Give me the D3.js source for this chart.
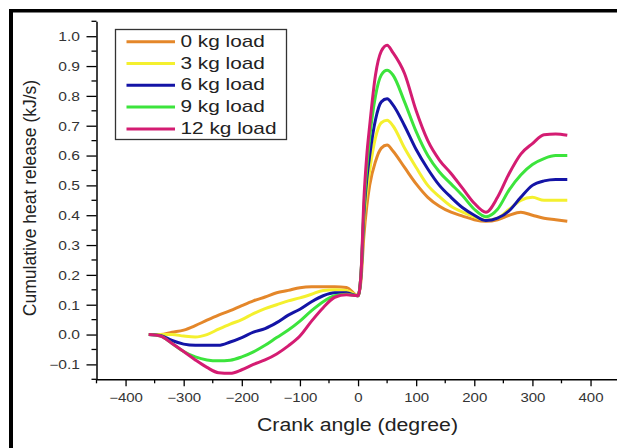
<!DOCTYPE html>
<html>
<head>
<meta charset="utf-8">
<script src="https://cdn.jsdelivr.net/npm/d3@7"></script>
<style>
  html, body { margin: 0; padding: 0; background: #fff; }
  svg { display: block; font-family: "Liberation Sans", Arial, sans-serif; }
</style>
</head>
<body>
<svg id="chart" width="617" height="448"></svg>
<script>
// ---- data ----
const crankAngle = [-360,-340,-320,-300,-280,-260,-240,-220,-200,-180,-160,-140,-120,-100,-80,-60,-40,-20,0,5,10,15,20,30,40,50,60,80,100,120,140,160,180,200,220,240,260,280,300,320,340,360];
const seriesNames = ["0 kg load","3 kg load","6 kg load","9 kg load","12 kg load"];
const load0 = [0,0,0.008,0.015,0.03,0.048,0.065,0.08,0.097,0.113,0.126,0.14,0.148,0.157,0.16,0.16,0.16,0.158,0.13,0.18,0.33,0.43,0.5,0.58,0.625,0.635,0.615,0.56,0.505,0.46,0.43,0.41,0.397,0.385,0.38,0.385,0.4,0.41,0.4,0.39,0.385,0.38];
const load3 = [0,0,0,-0.005,-0.008,0,0.018,0.035,0.05,0.07,0.087,0.1,0.113,0.123,0.135,0.148,0.15,0.148,0.13,0.2,0.38,0.48,0.55,0.66,0.71,0.718,0.7,0.625,0.56,0.5,0.462,0.43,0.41,0.395,0.383,0.39,0.42,0.45,0.46,0.45,0.45,0.45];
const load6 = [0,-0.003,-0.02,-0.032,-0.036,-0.036,-0.036,-0.025,-0.01,0.008,0.02,0.04,0.065,0.085,0.11,0.13,0.14,0.14,0.13,0.2,0.4,0.52,0.6,0.72,0.78,0.79,0.77,0.7,0.62,0.555,0.5,0.46,0.425,0.4,0.382,0.39,0.415,0.46,0.5,0.515,0.52,0.52];
const load9 = [0,-0.005,-0.03,-0.057,-0.075,-0.085,-0.088,-0.086,-0.075,-0.058,-0.036,-0.01,0.015,0.045,0.08,0.11,0.13,0.135,0.13,0.2,0.42,0.56,0.66,0.8,0.87,0.886,0.87,0.78,0.68,0.6,0.545,0.505,0.465,0.42,0.395,0.42,0.485,0.535,0.57,0.59,0.6,0.6];
const load12 = [0,-0.005,-0.03,-0.057,-0.085,-0.11,-0.128,-0.13,-0.118,-0.1,-0.085,-0.065,-0.038,-0.005,0.045,0.09,0.125,0.133,0.13,0.2,0.45,0.6,0.7,0.87,0.95,0.97,0.945,0.875,0.75,0.65,0.585,0.54,0.49,0.44,0.41,0.46,0.54,0.605,0.64,0.67,0.672,0.668];
const seriesColors = ["#E4872A","#F4F02E","#1414A6","#3CE43C","#D41C72"];
const xTickValues = [-400,-300,-200,-100,0,100,200,300,400];
const yTickValues = [-0.1,0,0.1,0.2,0.3,0.4,0.5,0.6,0.7,0.8,0.9,1.0];
const xTitle = "Crank angle (degree)";
const yTitle = "Cumulative heat release (kJ/s)";

const allSeries = [load0, load3, load6, load9, load12];

// ---- layout ----
const svg = d3.select("#chart");
const x = d3.scaleLinear().domain([-450, 450]).range([96.5, 619.6]);
const y = d3.scaleLinear().domain([-0.15, 1.05]).range([379.3, 21.3]);

// frame bars
svg.append("rect").attr("x", 9).attr("y", 9).attr("width", 608).attr("height", 3.5).attr("fill", "#000");
svg.append("rect").attr("x", 9).attr("y", 9).attr("width", 4).attr("height", 439).attr("fill", "#000");

// axes: minor ticks
const xMinor = d3.range(-450, 451, 50).filter(v => !xTickValues.includes(v));
const yMinor = d3.range(-0.15, 1.06, 0.05).map(v => +v.toFixed(2)).filter(v => !yTickValues.some(t => Math.abs(t - v) < 1e-6));

const gx = svg.append("g").attr("transform", `translate(0,${y(-0.15)})`);
gx.call(d3.axisBottom(x).tickValues(xTickValues).tickSize(7).tickSizeOuter(0).tickFormat(d3.format("d")));
gx.append("g").selectAll("line").data(xMinor).join("line")
  .attr("x1", d => x(d)).attr("x2", d => x(d)).attr("y1", 0).attr("y2", 4).attr("stroke", "#000").attr("stroke-width", 1.3);

const gy = svg.append("g").attr("transform", `translate(${x(-450)},0)`);
gy.call(d3.axisLeft(y).tickValues(yTickValues).tickSize(10).tickSizeOuter(0).tickFormat(d3.format(".1f")));
gy.append("g").selectAll("line").data(yMinor).join("line")
  .attr("y1", d => y(d)).attr("y2", d => y(d)).attr("x1", 0).attr("x2", -5).attr("stroke", "#000").attr("stroke-width", 1.3);

[gx, gy].forEach(g => {
  g.select(".domain").attr("stroke", "#000").attr("stroke-width", 1.5);
  g.selectAll(".tick line").attr("stroke", "#000").attr("stroke-width", 1.3);
  g.selectAll(".tick text").attr("fill", "#333").attr("font-size", 12)
    .attr("font-family", '"Liberation Sans", Arial, sans-serif');
});
gx.selectAll(".tick text").attr("y", 0).attr("dy", 0)
  .attr("transform", "translate(0,22.5) scale(1.25,1)");
gy.selectAll(".tick text").attr("x", 0).attr("dy", 0)
  .attr("transform", "translate(-16.5,4.3) scale(1.3,1)");

// lines
const line = d3.line().x((d, i) => x(crankAngle[i])).y(d => y(d)).curve(d3.curveMonotoneX);
svg.append("g").selectAll("path").data(allSeries).join("path")
  .attr("d", d => line(d))
  .attr("fill", "none")
  .attr("stroke", (d, i) => seriesColors[i])
  .attr("stroke-width", 3)
  .attr("stroke-linejoin", "round");

// axis titles
svg.append("text").text(xTitle)
  .attr("x", 357.5).attr("y", 431)
  .attr("text-anchor", "middle").attr("font-size", 17.5).attr("fill", "#222")
  .attr("textLength", 201).attr("lengthAdjust", "spacingAndGlyphs");
svg.append("text").text(yTitle)
  .attr("transform", "translate(36,198) rotate(-90)")
  .attr("text-anchor", "middle").attr("font-size", 17.5).attr("fill", "#222");

// legend
const lg = svg.append("g");
lg.append("rect").attr("x", 115.5).attr("y", 29.5).attr("width", 171).attr("height", 110)
  .attr("fill", "#fff").attr("stroke", "#333").attr("stroke-width", 1.3);
seriesNames.forEach((name, i) => {
  const base = 46.7 + i * 21.8;
  lg.append("line").attr("x1", 126.5).attr("x2", 175).attr("y1", base - 5).attr("y2", base - 5)
    .attr("stroke", seriesColors[i]).attr("stroke-width", 3);
  lg.append("text").text(name)
    .attr("transform", `translate(180.5,${base}) scale(1.3,1)`)
    .attr("font-size", 16).attr("fill", "#222");
});
</script>
</body>
</html>
